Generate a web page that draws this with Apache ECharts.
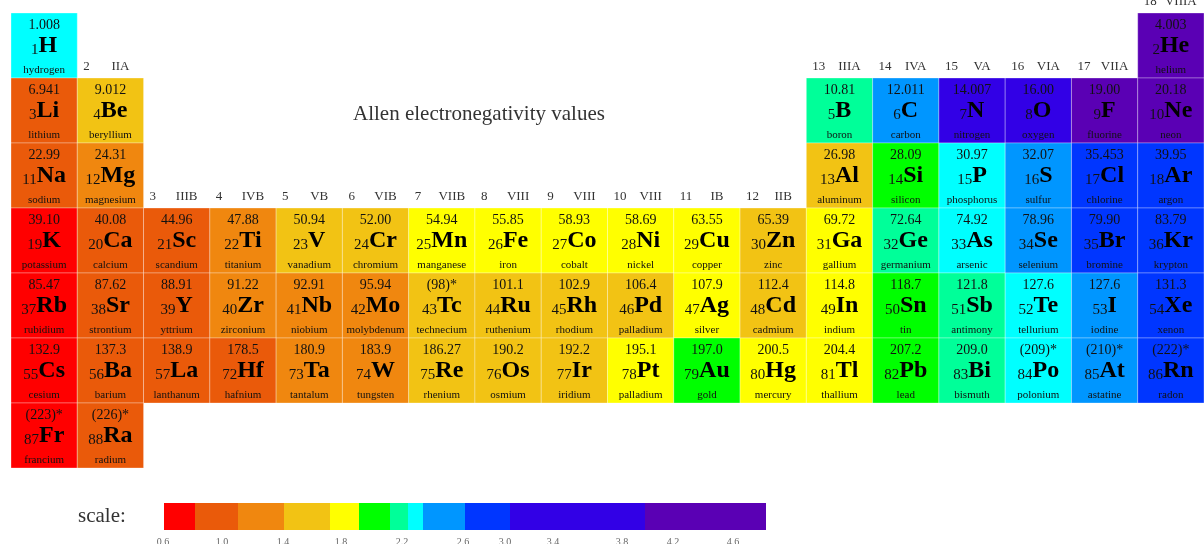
<!DOCTYPE html>
<html>
<head>
<meta charset="utf-8">
<script src="https://cdn.jsdelivr.net/npm/echarts@6/dist/echarts.min.js"></script>
<style>
html,body{margin:0;padding:0;background:#fff;}
#chart{width:1204px;height:544px;}
</style>
</head>
<body>
<div id="chart"></div>
<script>
// ---------- DATA ----------
const bandColors = ['#FF0000','#EA5A0A','#F0870F','#F2C314','#FFFF00','#00FF00','#00FF99','#00FFFF','#0096FF','#0036FF','#3200E6','#5A00B4'];

const elSymbols = ['H','He','Li','Be','B','C','N','O','F','Ne','Na','Mg','Al','Si','P','S','Cl','Ar',
 'K','Ca','Sc','Ti','V','Cr','Mn','Fe','Co','Ni','Cu','Zn','Ga','Ge','As','Se','Br','Kr',
 'Rb','Sr','Y','Zr','Nb','Mo','Tc','Ru','Rh','Pd','Ag','Cd','In','Sn','Sb','Te','I','Xe',
 'Cs','Ba','La','Hf','Ta','W','Re','Os','Ir','Pt','Au','Hg','Tl','Pb','Bi','Po','At','Rn',
 'Fr','Ra'];
const elNumbers = [1,2,3,4,5,6,7,8,9,10,11,12,13,14,15,16,17,18,
 19,20,21,22,23,24,25,26,27,28,29,30,31,32,33,34,35,36,
 37,38,39,40,41,42,43,44,45,46,47,48,49,50,51,52,53,54,
 55,56,57,72,73,74,75,76,77,78,79,80,81,82,83,84,85,86,
 87,88];
const elNames = ['hydrogen','helium','lithium','beryllium','boron','carbon','nitrogen','oxygen','fluorine','neon',
 'sodium','magnesium','aluminum','silicon','phosphorus','sulfur','chlorine','argon',
 'potassium','calcium','scandium','titanium','vanadium','chromium','manganese','iron','cobalt','nickel','copper','zinc','gallium','germanium','arsenic','selenium','bromine','krypton',
 'rubidium','strontium','yttrium','zirconium','niobium','molybdenum','technecium','ruthenium','rhodium','palladium','silver','cadmium','indium','tin','antimony','tellurium','iodine','xenon',
 'cesium','barium','lanthanum','hafnium','tantalum','tungsten','rhenium','osmium','iridium','palladium','gold','mercury','thallium','lead','bismuth','polonium','astatine','radon',
 'francium','radium'];
const elMasses = ['1.008','4.003','6.941','9.012','10.81','12.011','14.007','16.00','19.00','20.18',
 '22.99','24.31','26.98','28.09','30.97','32.07','35.453','39.95',
 '39.10','40.08','44.96','47.88','50.94','52.00','54.94','55.85','58.93','58.69','63.55','65.39','69.72','72.64','74.92','78.96','79.90','83.79',
 '85.47','87.62','88.91','91.22','92.91','95.94','(98)*','101.1','102.9','106.4','107.9','112.4','114.8','118.7','121.8','127.6','127.6','131.3',
 '132.9','137.3','138.9','178.5','180.9','183.9','186.27','190.2','192.2','195.1','197.0','200.5','204.4','207.2','209.0','(209)*','(210)*','(222)*',
 '(223)*','(226)*'];
const elGroups = [1,18,1,2,13,14,15,16,17,18,1,2,13,14,15,16,17,18,
 1,2,3,4,5,6,7,8,9,10,11,12,13,14,15,16,17,18,
 1,2,3,4,5,6,7,8,9,10,11,12,13,14,15,16,17,18,
 1,2,3,4,5,6,7,8,9,10,11,12,13,14,15,16,17,18,
 1,2];
const elPeriods = [1,1,2,2,2,2,2,2,2,2,3,3,3,3,3,3,3,3,
 4,4,4,4,4,4,4,4,4,4,4,4,4,4,4,4,4,4,
 5,5,5,5,5,5,5,5,5,5,5,5,5,5,5,5,5,5,
 6,6,6,6,6,6,6,6,6,6,6,6,6,6,6,6,6,6,
 7,7];
const elBands = [7,11,1,3,6,8,10,10,11,11,1,2,3,5,7,8,9,9,
 0,1,1,2,3,3,4,4,4,4,4,3,4,6,7,8,9,9,
 0,1,1,2,2,2,3,3,3,3,4,3,4,5,6,7,8,9,
 0,1,1,1,2,2,3,3,3,4,5,4,4,5,6,7,8,9,
 0,1];

const groupNums = ['2','3','4','5','6','7','8','9','10','11','12','13','14','15','16','17','18'];
const groupRoman = ['IIA','IIIB','IVB','VB','VIB','VIIB','VIII','VIII','VIII','IB','IIB','IIIA','IVA','VA','VIA','VIIA','VIIIA'];
const groupCols = [2,3,4,5,6,7,8,9,10,11,12,13,14,15,16,17,18];
const groupFirstPeriod = [2,4,4,4,4,4,4,4,4,4,4,2,2,2,2,2,1];

// colour scale legend (positions in legend units)
const scaleEdges = [0,31,74,120,166,195,226,244,259,301,346,481,602];
const scaleTickLabels = ['0.6','1.0','1.4','1.8','2.2','2.6','3.0','3.4','3.8','4.2','4.6'];
const scaleTickPos = [-1,58,119,177,238,299,341,389,458,509,569];

// ---------- CHART ----------
const SERIF = '"Liberation Serif","DejaVu Serif",serif';
const chart = echarts.init(document.getElementById('chart'));

const cellData = elSymbols.map((s,i)=>[elGroups[i], elPeriods[i]]);
const groupData = groupCols.map((g,i)=>[g, groupFirstPeriod[i]]);
const scaleData = bandColors.map((c,i)=>[scaleEdges[i], scaleEdges[i+1]]);
const tickData = scaleTickPos.map(p=>[p,0]);

chart.setOption({
  animation:false,
  backgroundColor:'#fff',
  title:{
    text:'Allen electronegativity values',
    left:348, top:99,
    textStyle:{fontFamily:SERIF,fontSize:21,fontWeight:'normal',color:'#333'}
  },
  graphic:[{
    type:'text', left:78, top:506,
    style:{text:'scale:', font:'21px '+SERIF, fill:'#333'}
  }],
  grid:[
    {left:11, top:13, width:1202, height:455},
    {left:164, top:503, width:602, height:27}
  ],
  xAxis:[
    {type:'value', min:0.5, max:18.5, show:false, gridIndex:0},
    {type:'value', min:0, max:602, show:false, gridIndex:1}
  ],
  yAxis:[
    {type:'value', min:0.5, max:7.5, inverse:true, show:false, gridIndex:0},
    {type:'value', min:0, max:1, show:false, gridIndex:1}
  ],
  series:[
    {
      type:'custom', xAxisIndex:0, yAxisIndex:0, data:cellData,
      renderItem:function(params, api){
        const i = params.dataIndex;
        const g = api.value(0), p = api.value(1);
        const tl = api.coord([g-0.5, p-0.5]);
        const br = api.coord([g+0.5, p+0.5]);
        const w = br[0]-tl[0], h = br[1]-tl[1];
        const cx = tl[0] + w/2;
        return {
          type:'group',
          children:[
            {type:'rect', shape:{x:tl[0], y:tl[1], width:w, height:h},
             style:{fill:bandColors[elBands[i]], stroke:'rgba(255,255,255,0.3)', lineWidth:1}},
            {type:'text', x:cx, y:tl[1]+12,
             style:{text:elMasses[i], font:'14px '+SERIF, fill:'#111', align:'center', verticalAlign:'middle'}},
            {type:'text', x:cx, y:tl[1]+33,
             style:{text:'{n|'+elNumbers[i]+'}{s|'+elSymbols[i]+'}', align:'center', verticalAlign:'middle',
               rich:{
                 n:{fontFamily:SERIF, fontSize:15, fill:'#111', verticalAlign:'bottom', padding:[6,0,0,0]},
                 s:{fontFamily:SERIF, fontSize:24, fontWeight:'bold', fill:'#000', verticalAlign:'bottom'}
               }}},
            {type:'text', x:cx, y:tl[1]+57,
             style:{text:elNames[i], font:'11px '+SERIF, fill:'#111', align:'center', verticalAlign:'middle'}}
          ]
        };
      }
    },
    {
      type:'custom', xAxisIndex:0, yAxisIndex:0, data:groupData,
      renderItem:function(params, api){
        const i = params.dataIndex;
        const g = api.value(0), p = api.value(1);
        const tl = api.coord([g-0.5, p-0.5]);
        const br = api.coord([g+0.5, p+0.5]);
        const cx = (tl[0]+br[0])/2;
        return {
          type:'group',
          children:[
            {type:'text', x:tl[0]+6, y:tl[1]-11,
             style:{text:groupNums[i], font:'13px '+SERIF, fill:'#333', align:'left', verticalAlign:'middle'}},
            {type:'text', x:cx+10, y:tl[1]-11,
             style:{text:groupRoman[i], font:'13px '+SERIF, fill:'#333', align:'center', verticalAlign:'middle'}}
          ]
        };
      }
    },
    {
      type:'custom', xAxisIndex:1, yAxisIndex:1, data:scaleData,
      renderItem:function(params, api){
        const a = api.coord([api.value(0), 1]);
        const b = api.coord([api.value(1), 0]);
        return {type:'rect', shape:{x:a[0], y:a[1], width:b[0]-a[0], height:b[1]-a[1]},
          style:{fill:bandColors[params.dataIndex]}};
      }
    },
    {
      type:'custom', xAxisIndex:1, yAxisIndex:1, data:tickData,
      renderItem:function(params, api){
        const a = api.coord([api.value(0), 0]);
        return {type:'text', x:a[0], y:a[1]+12,
          style:{text:scaleTickLabels[params.dataIndex], font:'10px '+SERIF, fill:'#666', align:'center', verticalAlign:'middle'}};
      }
    }
  ]
});
</script>
</body>
</html>
